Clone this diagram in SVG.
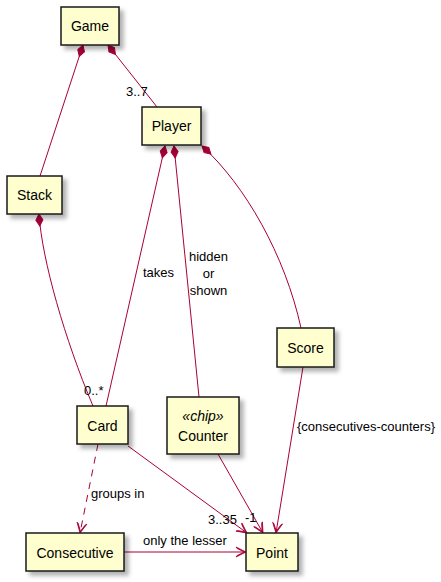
<svg xmlns="http://www.w3.org/2000/svg" width="441" height="582" viewBox="0 0 441 582">
<style>
.node rect{fill:#FEFECE;stroke:#181818;stroke-width:1.5;filter:url(#sh)}
.name{font-family:"Liberation Sans",Arial,sans-serif;font-size:14px;fill:#000;text-anchor:middle}
.lbl{font-family:"Liberation Sans",Arial,sans-serif;font-size:13px;fill:#000}
.edge{fill:none;stroke:#A80036;stroke-width:1}
.comp{marker-start:url(#dia)}
.arr{marker-end:url(#arrow)}
</style>
<defs>
<filter id="sh" x="-20%" y="-20%" width="150%" height="160%">
<feDropShadow dx="4" dy="4" stdDeviation="2" flood-color="#000" flood-opacity="0.3"/>
</filter>
<marker id="dia" markerUnits="userSpaceOnUse" markerWidth="14" markerHeight="10" viewBox="-1 -5 14 10" refX="0" refY="0" orient="auto" overflow="visible">
<path d="M0,0 L6,-3.5 L12,0 L6,3.5 Z" fill="#A80036" stroke="#A80036" stroke-width="1"/>
</marker>
<marker id="arrow" markerUnits="userSpaceOnUse" markerWidth="14" markerHeight="12" viewBox="-12 -6 14 12" refX="0" refY="0" orient="auto" overflow="visible">
<path d="M0,0 L-10,-5 L-9,-3.6 L-1.8,0 L-9,3.6 L-10,5 Z" fill="#A80036" stroke="#A80036" stroke-width="0.8" stroke-linejoin="miter"/>
</marker>
</defs>
<g id="connectors">
<path class="edge comp" d="M83,45 L40,176"/>
<path class="edge comp" d="M108,45 L157,107"/>
<path class="edge comp" d="M165,146 L106,406"/>
<path class="edge comp" d="M174,146 L199,397"/>
<path class="edge comp" d="M202,146 C245,185 285,255 301,328"/>
<path class="edge comp" d="M39,214 C42,260 65,340 93,406"/>
<path class="edge arr" d="M98,444 L80,533" stroke-dasharray="7,6"/>
<path class="edge arr" d="M128,446 L247,533"/>
<path class="edge arr" d="M218,454 L263,533"/>
<path class="edge arr" d="M303,367 L276,533"/>
<path class="edge arr" d="M124,552 L246,552"/>
<text class="lbl" x="126" y="96">3..7</text>
<text class="lbl" x="143" y="277">takes</text>
<text class="lbl" x="208.5" y="261" text-anchor="middle">hidden</text>
<text class="lbl" x="208.5" y="278" text-anchor="middle">or</text>
<text class="lbl" x="208.5" y="295" text-anchor="middle">shown</text>
<text class="lbl" x="84" y="395">0..*</text>
<text class="lbl" x="297" y="431">{consecutives-counters}</text>
<text class="lbl" x="91" y="498">groups in</text>
<text class="lbl" x="208" y="524">3..35</text>
<text class="lbl" x="245" y="522">-1</text>
<text class="lbl" x="143" y="545">only the lesser</text>
</g>
<g id="Game" class="node"><rect x="61" y="7" width="58" height="38"/><text class="name" x="90" y="31">Game</text></g>
<g id="Player" class="node"><rect x="142" y="107" width="59" height="38"/><text class="name" x="171.5" y="131">Player</text></g>
<g id="Stack" class="node"><rect x="7" y="176" width="55" height="38"/><text class="name" x="34.5" y="200">Stack</text></g>
<g id="Score" class="node"><rect x="277" y="328" width="57" height="39"/><text class="name" x="305.5" y="352.5">Score</text></g>
<g id="Card" class="node"><rect x="77" y="406" width="51" height="38"/><text class="name" x="102.5" y="430.5">Card</text></g>
<g id="Counter" class="node"><rect x="167" y="397" width="72" height="57"/><text class="name" x="203" y="421" font-style="italic">«chip»</text><text class="name" x="203" y="441">Counter</text></g>
<g id="Consecutive" class="node"><rect x="26" y="533" width="98" height="38"/><text class="name" x="75" y="557.5">Consecutive</text></g>
<g id="Point" class="node"><rect x="246" y="533" width="52" height="38"/><text class="name" x="272" y="557.5">Point</text></g>
</svg>
